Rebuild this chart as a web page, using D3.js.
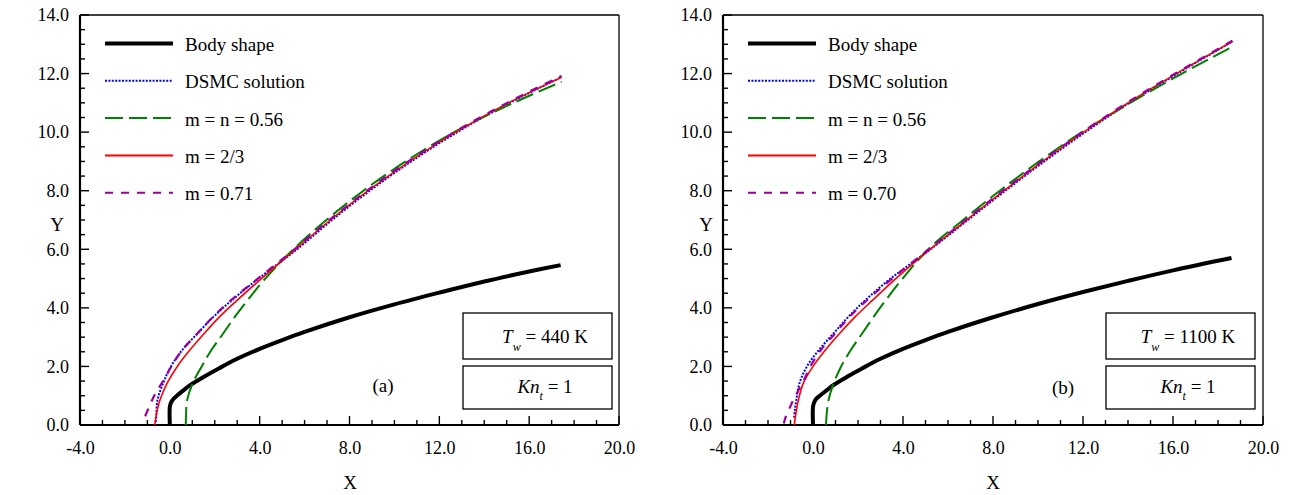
<!DOCTYPE html>
<html>
<head>
<meta charset="utf-8">
<script src="https://cdn.jsdelivr.net/npm/d3@7"></script>
<style>
  body { margin: 0; background: #fff; }
  svg { display: block; }
  text { font-family: "Liberation Serif", "Times New Roman", serif; fill: #000; }
</style>
</head>
<body>
<svg id="chart" width="1289" height="495"></svg>
<script>
// ---- Panel (a): Tw = 440 K ----  points are [X, Y]
const bodyA = [[0,0],[0,0.62],[0.05,0.76],[0.15,0.88],[0.3,0.99],[0.6,1.18],[0.9,1.36],[1.5,1.64],[2.2,1.94],[3.0,2.26],[4.0,2.6],[5.0,2.9],[6.0,3.18],[8.0,3.68],[10.0,4.12],[12.0,4.52],[14.0,4.9],[16.0,5.24],[17.4,5.46]];
const dsmcA = [[-0.62,0.1],[-0.6,0.4],[-0.55,0.85],[-0.3,1.43],[0.05,2.0],[0.55,2.56],[1.2,3.1],[1.95,3.7],[2.82,4.3],[3.95,5.0],[5.66,6.0],[7.22,7.0],[8.9,8.0],[10.75,9.0],[12.8,10.0],[15.13,11.0],[17.44,11.88]];
const m056A = [[0.71,0],[0.72,0.3],[0.77,0.85],[1.02,1.43],[1.42,2.0],[1.85,2.56],[2.35,3.1],[2.9,3.7],[3.5,4.3],[4.25,5.0],[5.5,6.0],[6.97,7.0],[8.62,8.0],[10.5,9.0],[12.66,10.0],[15.3,11.0],[17.44,11.72]];
const m23A = [[-0.67,0],[-0.62,0.28],[-0.44,0.85],[-0.12,1.43],[0.33,2.0],[0.89,2.56],[1.5,3.1],[2.22,3.7],[3.05,4.3],[4.08,5.0],[5.6,6.0],[7.15,7.0],[8.83,8.0],[10.68,9.0],[12.73,10.0],[15.08,11.0],[17.44,11.87]];
const m071A = [[-1.1,0.3],[-0.92,0.62],[-0.74,0.93],[-0.55,1.2],[-0.3,1.5],[0.07,2.0],[0.55,2.56],[1.2,3.1],[1.93,3.7],[2.78,4.3],[3.92,5.0],[5.55,6.0],[7.1,7.0],[8.78,8.0],[10.62,9.0],[12.67,10.0],[15.02,11.0],[17.44,11.92]];

// ---- Panel (b): Tw = 1100 K ----
const bodyB = [[0,0],[0,0.62],[0.05,0.77],[0.15,0.9],[0.3,1.0],[0.6,1.18],[0.9,1.36],[1.5,1.64],[2.2,1.94],[3.0,2.26],[4.0,2.6],[5.0,2.9],[6.0,3.18],[8.0,3.68],[10.0,4.13],[12.0,4.54],[14.0,4.92],[16.0,5.28],[18.6,5.7]];
const dsmcB = [[-0.84,0.25],[-0.8,0.55],[-0.74,0.85],[-0.6,1.43],[-0.27,2.0],[0.26,2.56],[0.88,3.1],[1.58,3.7],[2.38,4.3],[3.45,5.0],[5.22,6.0],[6.88,7.0],[8.55,8.0],[10.28,9.0],[12.1,10.0],[14.06,11.0],[16.2,12.0],[18.64,13.1]];
const m056B = [[0.58,0],[0.6,0.3],[0.69,0.85],[0.92,1.43],[1.25,2.0],[1.68,2.56],[2.16,3.1],[2.7,3.7],[3.27,4.3],[3.98,5.0],[5.12,6.0],[6.67,7.0],[8.3,8.0],[10.05,9.0],[11.95,10.0],[14.1,11.0],[16.4,12.0],[18.64,12.92]];
const m23B = [[-0.83,0],[-0.78,0.3],[-0.65,0.85],[-0.43,1.43],[0.0,2.0],[0.55,2.56],[1.15,3.1],[1.88,3.7],[2.7,4.3],[3.68,5.0],[5.2,6.0],[6.83,7.0],[8.49,8.0],[10.21,9.0],[12.03,10.0],[14.0,11.0],[16.15,12.0],[18.64,13.09]];
const m070B = [[-1.3,0.05],[-1.2,0.3],[-1.05,0.56],[-0.88,0.85],[-0.72,1.08],[-0.57,1.3],[-0.42,1.5],[-0.12,2.0],[0.35,2.56],[0.95,3.1],[1.63,3.7],[2.45,4.3],[3.52,5.0],[5.15,6.0],[6.78,7.0],[8.44,8.0],[10.16,9.0],[11.98,10.0],[13.95,11.0],[16.1,12.0],[18.64,13.12]];

// ---- Labels and ticks ----
const xMajor = [-4, 0, 4, 8, 12, 16, 20];
const xMinor = d3.range(-4, 20.001, 1);
const yMajor = [0, 2, 4, 6, 8, 10, 12, 14];
const yMinor = d3.range(0, 14.001, 0.5);
const legendA = ["Body shape", "DSMC solution", "m = n = 0.56", "m = 2/3", "m = 0.71"];
const legendB = ["Body shape", "DSMC solution", "m = n = 0.56", "m = 2/3", "m = 0.70"];
const wallTemps = ["440", "1100"];
const knudsen = "1";
const tags = ["(a)", "(b)"];

// line styles, in legend order
const styles = [
  { color: "#000000", width: 4,   dash: null },
  { color: "#0000ff", width: 2,   dash: "2,1.4" },
  { color: "#008000", width: 2,   dash: "18,6" },
  { color: "#ff0000", width: 1.6, dash: null },
  { color: "#990099", width: 2.2, dash: "8,8" }
];

const panels = [
  { left: 80,  right: 619,  series: [bodyA, dsmcA, m056A, m23A, m071A], legend: legendA, temp: wallTemps[0], tag: tags[0], tagX: 383, tagY: 392, titleX: 350, yTitleX: 57 },
  { left: 723, right: 1263, series: [bodyB, dsmcB, m056B, m23B, m070B], legend: legendB, temp: wallTemps[1], tag: tags[1], tagX: 1063, tagY: 394, titleX: 993, yTitleX: 706 }
];

const plotTop = 15, plotBottom = 425;
const svg = d3.select("#chart");
const fmt = v => v.toFixed(1);

panels.forEach(p => {
  const x = d3.scaleLinear().domain([-4, 20]).range([p.left, p.right]);
  const y = d3.scaleLinear().domain([0, 14]).range([plotBottom, plotTop]);
  const g = svg.append("g");

  // tick labels from d3 axes (tick marks drawn separately below)
  const xa = g.append("g").attr("transform", `translate(0,${plotBottom})`)
    .call(d3.axisBottom(x).tickValues(xMajor).tickSize(0).tickPadding(16).tickFormat(fmt));
  const ya = g.append("g").attr("transform", `translate(${p.left},0)`)
    .call(d3.axisLeft(y).tickValues(yMajor).tickSize(0).tickPadding(11).tickFormat(fmt));
  [xa, ya].forEach(a => {
    a.select(".domain").remove();
    a.selectAll(".tick line").remove();
    a.attr("font-size", 18).attr("font-family", null);
  });

  // inward tick marks: minor and major
  const tickG = g.append("g").attr("stroke", "#000").attr("stroke-width", 1.4);
  tickG.selectAll("line.xt").data(xMinor).join("line").attr("class", "xt")
    .attr("x1", d => x(d)).attr("x2", d => x(d))
    .attr("y1", plotBottom).attr("y2", d => plotBottom - (xMajor.includes(d) ? 9 : 5));
  tickG.selectAll("line.yt").data(yMinor).join("line").attr("class", "yt")
    .attr("y1", d => y(d)).attr("y2", d => y(d))
    .attr("x1", p.left).attr("x2", d => p.left + (yMajor.includes(d) ? 9 : 5));

  // frame
  g.append("line").attr("x1", p.left).attr("x2", p.right).attr("y1", plotTop).attr("y2", plotTop)
    .attr("stroke", "#000").attr("stroke-width", 1.3);
  g.append("line").attr("x1", p.right).attr("x2", p.right).attr("y1", plotTop).attr("y2", plotBottom)
    .attr("stroke", "#000").attr("stroke-width", 1.3);
  g.append("line").attr("x1", p.left).attr("x2", p.right).attr("y1", plotBottom).attr("y2", plotBottom)
    .attr("stroke", "#000").attr("stroke-width", 2.2);
  g.append("line").attr("x1", p.left).attr("x2", p.left).attr("y1", plotTop).attr("y2", plotBottom)
    .attr("stroke", "#000").attr("stroke-width", 2.2);

  // curves
  const line = d3.line().x(d => x(d[0])).y(d => y(d[1])).curve(d3.curveCatmullRom.alpha(0.5));
  p.series.forEach((s, i) => {
    const st = styles[i];
    g.append("path").datum(s).attr("d", line)
      .attr("fill", "none").attr("stroke", st.color).attr("stroke-width", st.width)
      .attr("stroke-dasharray", st.dash).attr("stroke-linejoin", "round");
  });

  // legend
  p.legend.forEach((lab, i) => {
    const st = styles[i];
    const ly = 43.5 + i * 37.3;
    g.append("line").attr("x1", p.left + 25).attr("x2", p.left + 93).attr("y1", ly).attr("y2", ly)
      .attr("stroke", st.color).attr("stroke-width", i === 0 ? 4 : 2).attr("stroke-dasharray", st.dash);
    g.append("text").attr("x", p.left + 105).attr("y", ly + 7.5).attr("font-size", 19).text(lab);
  });

  // condition boxes
  const bx = p.left + 383;
  g.append("rect").attr("x", bx).attr("y", 313).attr("width", 149).attr("height", 46)
    .attr("fill", "#fff").attr("stroke", "#000").attr("stroke-width", 1.3);
  g.append("rect").attr("x", bx).attr("y", 366).attr("width", 149).attr("height", 43)
    .attr("fill", "#fff").attr("stroke", "#000").attr("stroke-width", 1.3);

  const t1 = g.append("text").attr("x", bx + 82).attr("y", 343).attr("font-size", 19).attr("text-anchor", "middle");
  t1.append("tspan").attr("font-style", "italic").text("T");
  t1.append("tspan").attr("font-style", "italic").attr("font-size", 12).attr("dy", 8).text("w");
  t1.append("tspan").attr("dy", -8).text(` = ${p.temp} K`);

  const t2 = g.append("text").attr("x", bx + 82).attr("y", 393).attr("font-size", 19).attr("text-anchor", "middle");
  t2.append("tspan").attr("font-style", "italic").text("Kn");
  t2.append("tspan").attr("font-style", "italic").attr("font-size", 12).attr("dy", 7).text("t");
  t2.append("tspan").attr("dy", -7).text(` = ${knudsen}`);

  g.append("text").attr("x", p.tagX).attr("y", p.tagY).attr("font-size", 19).attr("text-anchor", "middle").text(p.tag);

  // axis titles
  g.append("text").attr("x", p.titleX).attr("y", 489).attr("font-size", 19).attr("text-anchor", "middle").text("X");
  g.append("text").attr("x", p.yTitleX).attr("y", 231).attr("font-size", 19).attr("text-anchor", "middle").text("Y");
});
</script>
</body>
</html>
